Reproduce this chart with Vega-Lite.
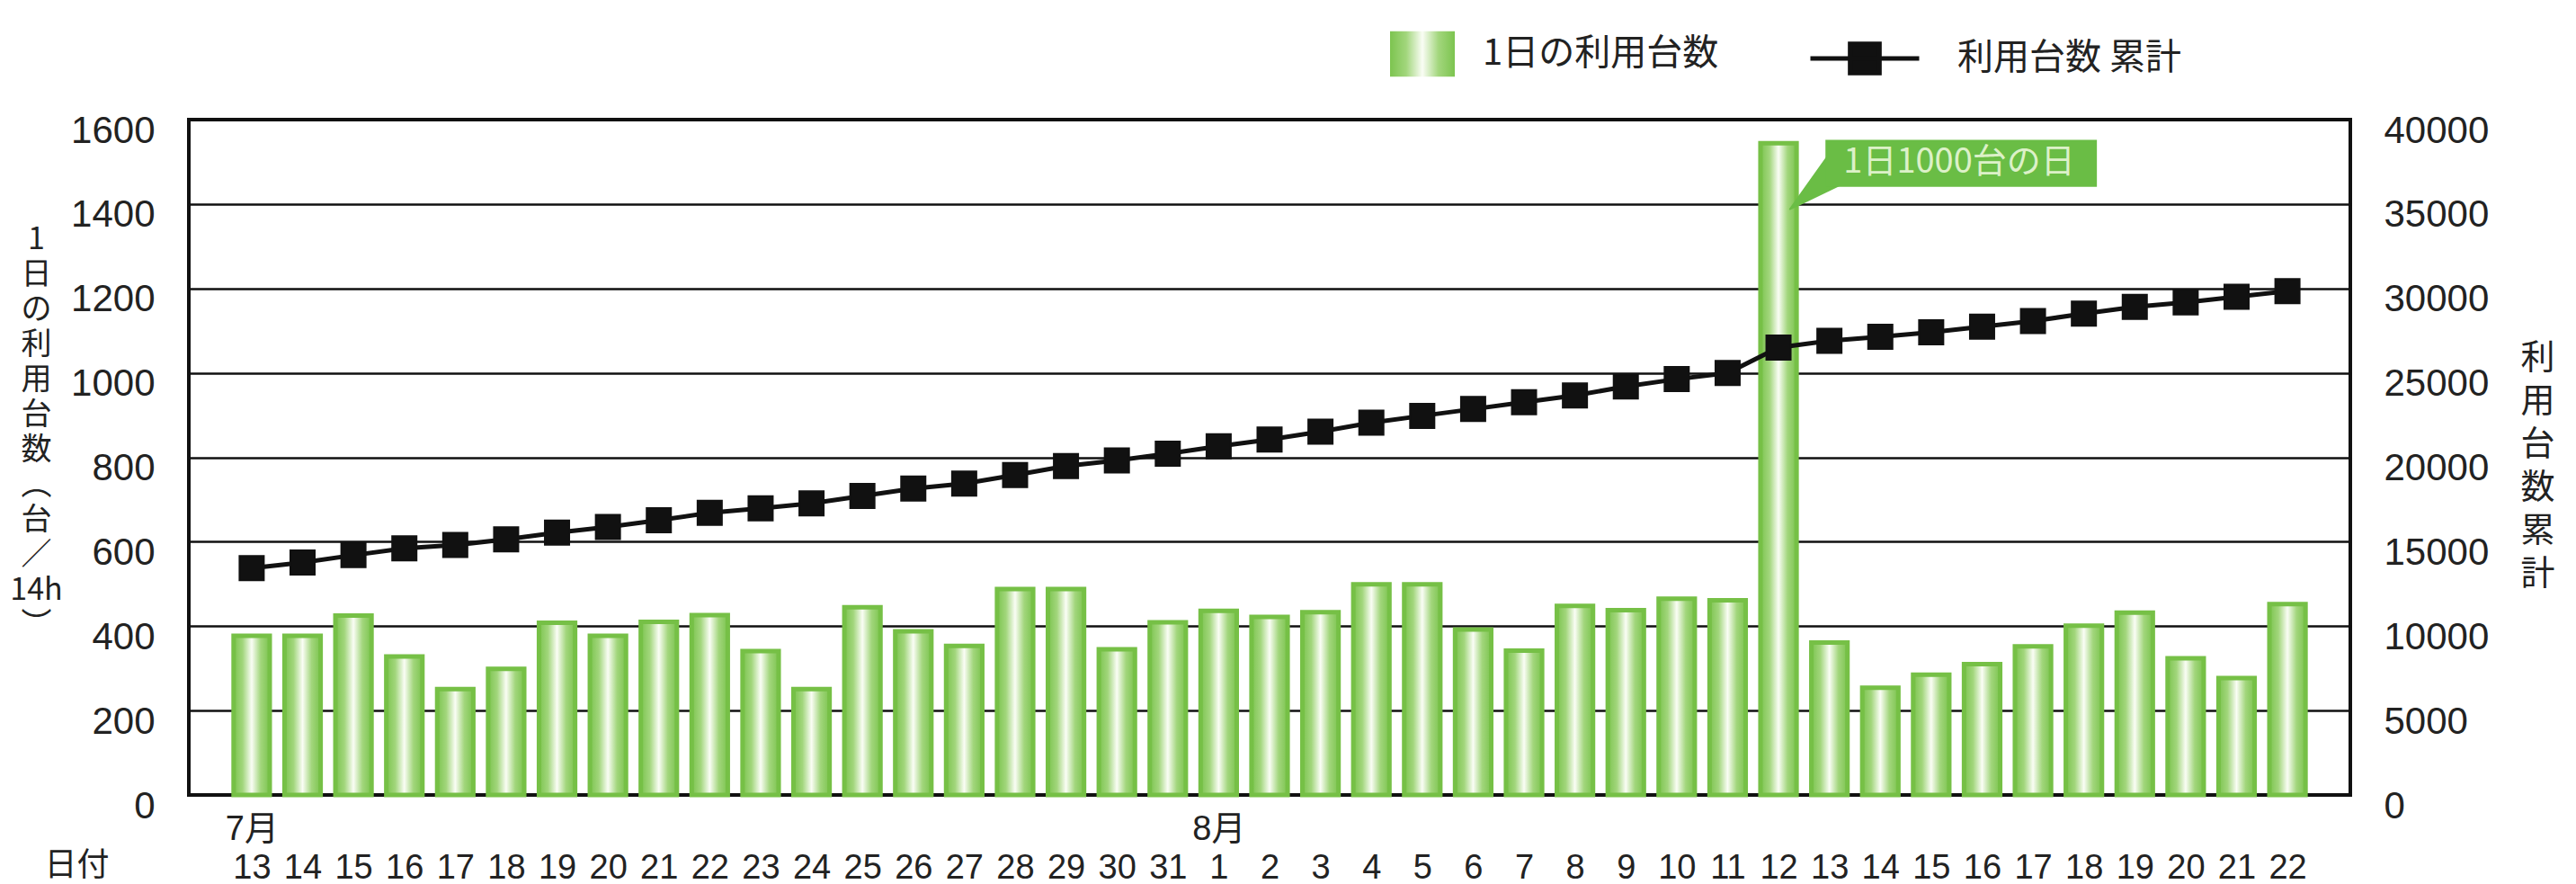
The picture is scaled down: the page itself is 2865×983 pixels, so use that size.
{
  "$schema": "https://vega.github.io/schema/vega-lite/v6.json",
  "width": 2404,
  "height": 751,
  "autosize": {"type": "none"},
  "padding": {"left": 210, "top": 133, "right": 251, "bottom": 99},
  "background": "white",
  "config": {
    "view": {"stroke": "#111", "strokeWidth": 4},
    "font": "Liberation Sans, Noto Sans CJK JP",
    "axis": {"labelColor": "#222", "titleColor": "#222", "titleFontWeight": "normal"}
  },
  "datasets": {
    "days": [
      {"date": "7/13", "daily": 377, "cum": 13434},
      {"date": "7/14", "daily": 377, "cum": 13768},
      {"date": "7/15", "daily": 425, "cum": 14202},
      {"date": "7/16", "daily": 328, "cum": 14603},
      {"date": "7/17", "daily": 251, "cum": 14804},
      {"date": "7/18", "daily": 299, "cum": 15138},
      {"date": "7/19", "daily": 408, "cum": 15539},
      {"date": "7/20", "daily": 377, "cum": 15873},
      {"date": "7/21", "daily": 410, "cum": 16274},
      {"date": "7/22", "daily": 426, "cum": 16708},
      {"date": "7/23", "daily": 341, "cum": 16976},
      {"date": "7/24", "daily": 251, "cum": 17276},
      {"date": "7/25", "daily": 445, "cum": 17711},
      {"date": "7/26", "daily": 388, "cum": 18145},
      {"date": "7/27", "daily": 353, "cum": 18446},
      {"date": "7/28", "daily": 488, "cum": 18947},
      {"date": "7/29", "daily": 488, "cum": 19482},
      {"date": "7/30", "daily": 345, "cum": 19816},
      {"date": "7/31", "daily": 409, "cum": 20217},
      {"date": "8/1", "daily": 436, "cum": 20651},
      {"date": "8/2", "daily": 422, "cum": 21053},
      {"date": "8/3", "daily": 433, "cum": 21520},
      {"date": "8/4", "daily": 499, "cum": 22055},
      {"date": "8/5", "daily": 499, "cum": 22456},
      {"date": "8/6", "daily": 392, "cum": 22857},
      {"date": "8/7", "daily": 342, "cum": 23258},
      {"date": "8/8", "daily": 448, "cum": 23659},
      {"date": "8/9", "daily": 438, "cum": 24194},
      {"date": "8/10", "daily": 465, "cum": 24628},
      {"date": "8/11", "daily": 461, "cum": 24996},
      {"date": "8/12", "daily": 1544, "cum": 26500},
      {"date": "8/13", "daily": 361, "cum": 26901},
      {"date": "8/14", "daily": 254, "cum": 27135},
      {"date": "8/15", "daily": 285, "cum": 27402},
      {"date": "8/16", "daily": 310, "cum": 27736},
      {"date": "8/17", "daily": 352, "cum": 28070},
      {"date": "8/18", "daily": 401, "cum": 28505},
      {"date": "8/19", "daily": 432, "cum": 28906},
      {"date": "8/20", "daily": 324, "cum": 29173},
      {"date": "8/21", "daily": 277, "cum": 29507},
      {"date": "8/22", "daily": 452, "cum": 29841}
    ],
    "note": [
      {"x1": "8/13", "x2": "8/18", "y1": 1441, "y2": 1552, "ym": 1497, "label": "1日1000台の日"}
    ],
    "tail": [
      {"date": "8/12", "v": 1388, "w": 2},
      {"date": "8/13", "v": 1490, "w": 40}
    ]
  },
  "layer": [
    {
      "layer": [
        {
          "data": {"name": "days"},
          "mark": {"type": "bar", "stroke": "#76c046", "strokeWidth": 5,
            "fill": {"gradient": "linear", "x1": 0, "x2": 1, "y1": 0, "y2": 0, "stops": [
                {"offset": 0, "color": "#7cc44f"},
                {"offset": 0.25, "color": "#a2d67c"},
                {"offset": 0.5, "color": "#fafdf5"},
                {"offset": 0.75, "color": "#a2d67c"},
                {"offset": 1, "color": "#7cc44f"}
              ]}},
          "encoding": {
            "x": {
              "field": "date", "type": "ordinal", "sort": null,
              "scale": {
                "domain": ["7/13","7/14","7/15","7/16","7/17","7/18","7/19","7/20","7/21","7/22","7/23","7/24","7/25","7/26","7/27","7/28","7/29","7/30","7/31","8/1","8/2","8/3","8/4","8/5","8/6","8/7","8/8","8/9","8/10","8/11","8/12","8/13","8/14","8/15","8/16","8/17","8/18","8/19","8/20","8/21","8/22"],
                "paddingInner": 0.29, "paddingOuter": 0.88
              },
              "axis": {
                "title": "日付", "titleX": -125, "titleY": 78, "titleAlign": "center", "titleBaseline": "middle",
                "titleAngle": 0, "titleFont": "Noto Sans CJK JP", "titleFontSize": 36, "titleFontWeight": "normal", "titleColor": "#222",
                "labelAngle": 0, "labelFontSize": 38, "labelLineHeight": 43, "labelBaseline": "top", "labelPadding": 34,
                "labelOverlap": false, "labelColor": "#222",
                "labelExpr": "datum.value == '7/13' ? ['7月', '13'] : datum.value == '8/1' ? ['8月', '1'] : ['', split(datum.value, '/')[1]]",
                "domain": false, "ticks": true, "tickBand": "extent", "tickSize": -15, "tickColor": "#111", "tickWidth": 2.5, "grid": false
              }
            },
            "y": {
              "field": "daily", "type": "quantitative",
              "scale": {"domain": [0, 1600], "nice": false},
              "axis": {
                "title": ["1","日","の","利","用","台","数","︵","台","／","14h","︶"],
                "titleAngle": 0, "titleX": -170, "titleY": 133, "titleAlign": "center", "titleBaseline": "middle",
                "titleFont": "Noto Sans CJK JP", "titleFontSize": 34, "titleLineHeight": 39, "titleFontWeight": "normal", "titleColor": "#222",
                "values": [0, 200, 400, 600, 800, 1000, 1200, 1400, 1600], "format": "d",
                "labelFont": "Liberation Sans", "labelFontSize": 42, "labelPadding": 38, "labelOffset": 12, "labelFlush": false, "labelColor": "#222",
                "ticks": false, "tickSize": 0, "domain": false, "grid": true, "gridColor": "#111", "gridWidth": 2.5
              }
            },
            "opacity": {
              "datum": "1日の利用台数", "type": "nominal",
              "scale": {"range": [1]},
              "legend": {
                "orient": "none", "legendX": 1336, "legendY": -109, "title": null, "padding": 0,
                "symbolType": "M-1,-0.7H1V0.7H-1Z", "symbolSize": 5184, "symbolStrokeWidth": 0,
                "symbolFillColor": "#8fce66",
                "labelFont": "Noto Sans CJK JP", "labelFontSize": 40, "labelColor": "#222", "labelOffset": 31, "labelLimit": 0,
                "encode": {"symbols": {"update": {"fill": {"value": {"gradient": "linear", "x1": 0, "x2": 1, "y1": 0, "y2": 0, "stops": [
                  {"offset": 0, "color": "#7cc44f"},
                  {"offset": 0.3, "color": "#a2d67c"},
                  {"offset": 0.5, "color": "#fafdf5"},
                  {"offset": 0.7, "color": "#a2d67c"},
                  {"offset": 1, "color": "#7cc44f"}
                ]}}}}}
              }
            }
          }
        },
        {
          "data": {"name": "tail"},
          "mark": {"type": "trail", "color": "#6abd45"},
          "encoding": {
            "x": {"field": "date", "type": "ordinal", "sort": null, "bandPosition": 0.82},
            "y": {"field": "v", "type": "quantitative"},
            "size": {"field": "w", "type": "quantitative", "scale": null}
          }
        },
        {
          "data": {"name": "note"},
          "mark": {"type": "rect", "color": "#6abd45"},
          "encoding": {
            "x": {"field": "x1", "type": "ordinal", "sort": null, "bandPosition": 0.39},
            "x2": {"field": "x2", "bandPosition": 0.86},
            "y": {"field": "y1", "type": "quantitative"},
            "y2": {"field": "y2"}
          }
        },
        {
          "data": {"name": "note"},
          "mark": {"type": "text", "align": "left", "baseline": "middle", "fontSize": 38, "font": "Noto Sans CJK JP", "color": "#dcf1c8"},
          "encoding": {
            "x": {"field": "x1", "type": "ordinal", "sort": null, "bandPosition": 0.89},
            "y": {"field": "ym", "type": "quantitative"},
            "text": {"field": "label"}
          }
        }
      ]
    },
    {
      "data": {"name": "days"},
      "mark": {"type": "line", "strokeWidth": 5, "point": {"shape": "square", "size": 729, "filled": true, "color": "#111"}},
      "encoding": {
        "x": {"field": "date", "type": "ordinal", "sort": null},
        "y": {
          "field": "cum", "type": "quantitative",
          "scale": {"domain": [0, 40000], "nice": false},
          "axis": {
            "orient": "right",
            "title": ["利","用","台","数","累","計"],
            "titleAngle": 0, "titleX": 208, "titleY": 265, "titleAlign": "center", "titleBaseline": "middle",
            "titleFont": "Noto Sans CJK JP", "titleFontSize": 38, "titleLineHeight": 48, "titleFontWeight": "normal", "titleColor": "#222",
            "values": [0, 5000, 10000, 15000, 20000, 25000, 30000, 35000, 40000], "format": "d",
            "labelFont": "Liberation Sans", "labelFontSize": 42, "labelPadding": 37, "labelOffset": 12, "labelFlush": false, "labelColor": "#222",
            "ticks": false, "tickSize": 0, "domain": false, "grid": false
          }
        },
        "stroke": {
          "datum": "利用台数 累計", "type": "nominal",
          "scale": {"range": ["#111"]},
          "legend": {
            "orient": "none", "legendX": 1801, "legendY": -131, "title": null, "padding": 0,
            "symbolType": "M-1,0H1M-0.27,-0.27H0.27V0.27H-0.27Z", "symbolSize": 14641, "symbolStrokeWidth": 5,
            "symbolFillColor": "#111", "symbolStrokeColor": "#111",
            "labelFont": "Noto Sans CJK JP", "labelFontSize": 40, "labelColor": "#222", "labelOffset": 40, "labelLimit": 0,
            "encode": {"symbols": {"update": {"fill": {"value": "#111"}}}}
          }
        }
      }
    }
  ],
  "resolve": {"scale": {"y": "independent"}}
}
